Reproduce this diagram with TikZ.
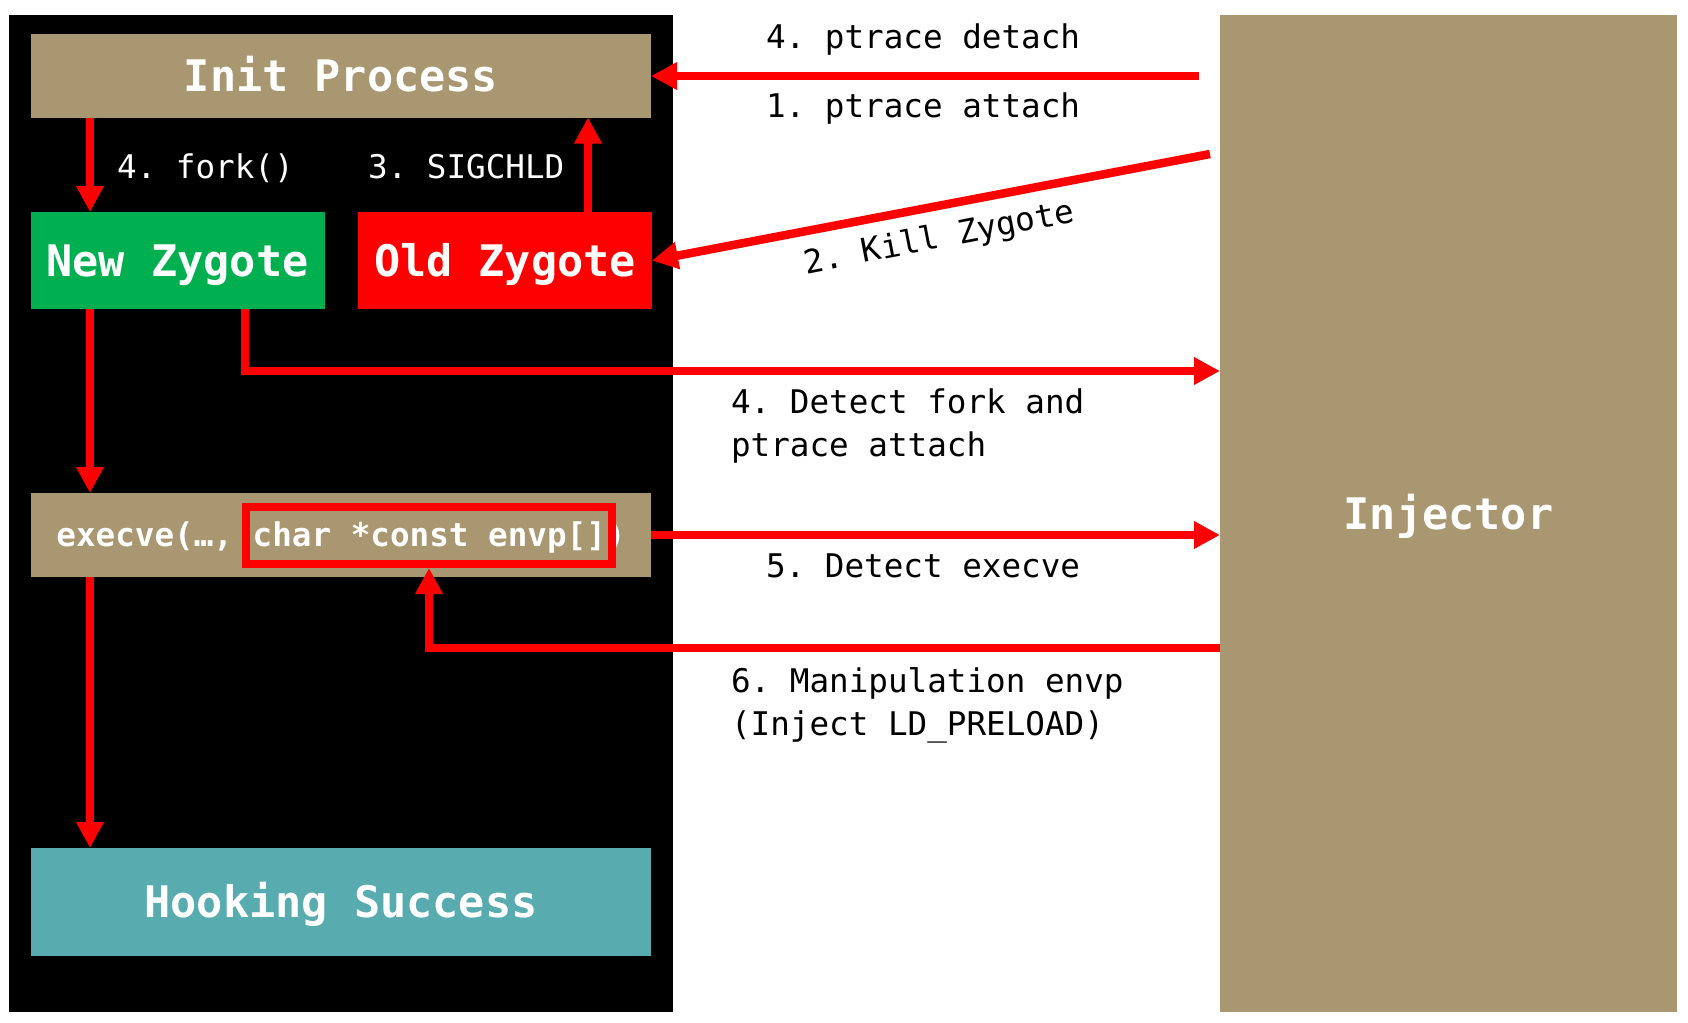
\documentclass[tikz,border=0pt]{standalone}
\usepackage{fontspec}
\setmonofont{DejaVu Sans Mono}
\usetikzlibrary{arrows.meta}
\definecolor{tanc}{RGB}{168,151,112}
\definecolor{zgreen}{RGB}{0,176,80}
\definecolor{tealc}{RGB}{88,172,176}
\definecolor{redc}{RGB}{255,0,0}
\begin{document}
\begin{tikzpicture}[x=0.5pt,y=-0.5pt,
  box/.style={inner sep=0pt, outer sep=0pt, text=white,
    text height=15.9pt, text depth=0pt,
    font=\ttfamily\bfseries\fontsize{21.75}{26}\selectfont},
  arr/.style={draw=redc, line width=4.25pt, -{Triangle[length=13pt,width=13pt]}},
  lbl/.style={inner sep=0pt, outer sep=0pt, align=left,
    font=\ttfamily\fontsize{16.3}{21.5}\selectfont},
  lblw/.style={lbl, text=white},
  lblb/.style={lbl, text=black}]
\fill[white] (0,0) rectangle (1688,1023);
\useasboundingbox (0,0) rectangle (1688,1023);
% panels
\node[fill=black, inner sep=0pt, minimum width=332pt, minimum height=498.5pt] (panel) at (341,513.5) {};
\node[box, fill=tanc, minimum width=228.5pt, minimum height=498.5pt] (inj) at (1448.5,513.5) {Injector};
% boxes
\node[box, fill=tanc, minimum width=310pt, minimum height=42pt] (init) at (341,75.5) {Init Process};
\node[box, fill=zgreen, minimum width=147pt, minimum height=48.5pt] (newz) at (177.5,260.5) {New Zygote};
\node[box, fill=redc, minimum width=147pt, minimum height=48.5pt] (oldz) at (505,260.5) {Old Zygote};
\node[box, fill=tanc, minimum width=310pt, minimum height=42pt, text height=11.9pt,
  font=\ttfamily\bfseries\fontsize{16.3}{20}\selectfont] (exec) at (341,535) {execve(…, char *const envp[])};
\node[draw=redc, line width=4pt, inner sep=0pt, minimum width=183pt, minimum height=28.5pt] (envp) at (429,535.5) {};
\node[box, fill=tealc, minimum width=310pt, minimum height=54pt] (hook) at (341,902) {Hooking Success};
% helper coordinates
\coordinate (a1) at (1199,76);
\coordinate (k1) at (1210,154);
\coordinate (xf) at (90,0);
\coordinate (xs) at (588,0);
\coordinate (xd) at (245,371);
\coordinate (ym) at (0,648);
% connectors
\draw[arr] (a1) -- (init.east |- a1);
\draw[arr] (k1) -- (oldz.east);
\draw[arr] (init.south -| xf) -- (newz.north -| xf);
\draw[arr] (oldz.north -| xs) -- (init.south -| xs);
\draw[arr] (newz.south -| xd) |- (inj.west |- xd);
\draw[arr] (newz.south -| xf) -- (exec.north -| xf);
\draw[arr] (exec.east) -- (inj.west |- exec.east);
\draw[arr] (inj.west |- ym) -| (envp.south);
\draw[arr] (exec.south -| xf) -- (hook.north -| xf);
% labels
\node[lblw, anchor=base west] (lfork) at (117,178) {4. fork()};
\node[lblw, anchor=base west] (lsig) at (368,178) {3. SIGCHLD};
\node[lblb, anchor=base west] (ldet) at (766,48) {4. ptrace detach};
\node[lblb, anchor=base west] (latt) at (766,117) {1. ptrace attach};
\node[lblb, anchor=base west, rotate=11] (lkill) at (806,274) {2. Kill Zygote};
\node[lblb, anchor=base west] (ldf) at (731,456) {4. Detect fork and\\ptrace attach};
\node[lblb, anchor=base west] (lex) at (766,577) {5. Detect execve};
\node[lblb, anchor=base west] (lman) at (731,735) {6. Manipulation envp\\(Inject LD\_PRELOAD)};
\end{tikzpicture}
\end{document}
